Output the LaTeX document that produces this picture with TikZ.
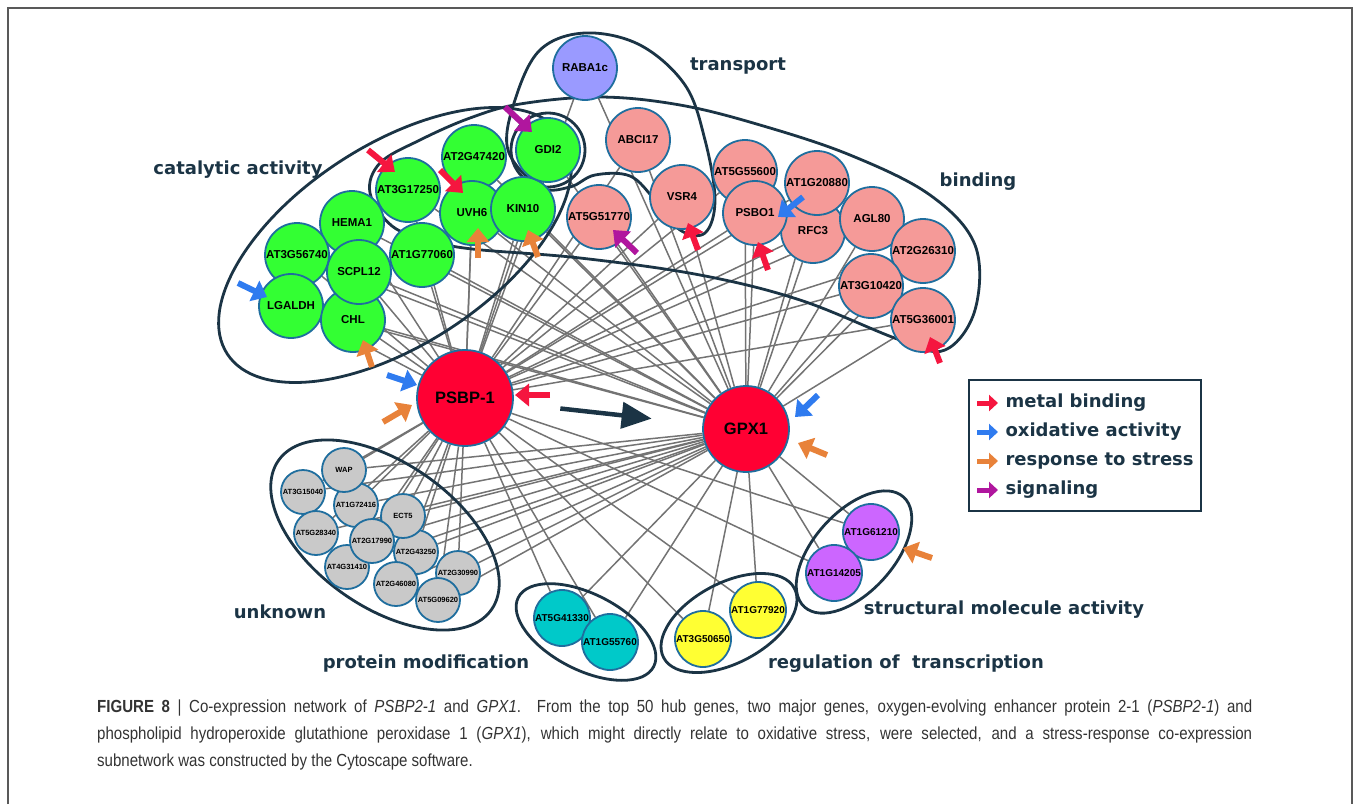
\documentclass[tikz,border=0pt]{standalone}
\usepackage{fontspec}
\setmainfont{Liberation Sans}
\newfontfamily\grpfont{DejaVu Sans}
\newfontfamily\capfont[FakeStretch=0.86]{Liberation Sans}
\usetikzlibrary{arrows.meta,calc,backgrounds}

\definecolor{navy}{HTML}{1B3445}
\definecolor{rim}{HTML}{1F6E9E}
\definecolor{catgreen}{HTML}{33FF33}
\definecolor{bindpink}{HTML}{F59A98}
\definecolor{lavender}{HTML}{9A9AFF}
\definecolor{unkgray}{HTML}{C9C9C9}
\definecolor{modcyan}{HTML}{00C9C9}
\definecolor{regyellow}{HTML}{FFFF33}
\definecolor{structpurple}{HTML}{CC66FF}
\definecolor{hubred}{HTML}{FF0033}
\definecolor{cuered}{HTML}{F5163F}
\definecolor{cueblue}{HTML}{2F7BEF}
\definecolor{cueorange}{HTML}{E8823A}
\definecolor{cuepurple}{HTML}{B0169E}
\definecolor{capgray}{HTML}{333333}

\tikzset{
  gene/.style={circle,draw=rim,line width=1.8pt,minimum size=64pt,inner sep=0pt,
    font=\fontsize{11.5}{11.5}\selectfont\bfseries},
  minigene/.style={gene,minimum size=44pt,font=\fontsize{7.5}{8}\selectfont\bfseries},
  midgene/.style={gene,minimum size=56pt,font=\fontsize{10}{10}\selectfont\bfseries},
  hub/.style={gene,fill=hubred,font=\fontsize{16.5}{17}\selectfont\bfseries},
  grp/.style={text=navy,font=\grpfont\bfseries\fontsize{18}{20}\selectfont},
  outline/.style={draw=navy,line width=2.8pt},
  edge/.style={draw=black!55,line width=1.5pt},
  cue/.style={line width=6pt,-{Triangle[length=14pt,width=22pt]}},
  keycue/.style={line width=5pt,-{Triangle[length=9pt,width=16pt]}},
  bigarrow/.style={draw=navy,line width=4.5pt,-{Triangle[length=30pt,width=26pt]}},
}
\newcommand{\cue}[4]{\draw[cue,#1] ($(#2)+(#3)$) -- ($(#2)+(#4)$);}

\begin{document}
\begin{tikzpicture}[x=1pt,y=-1pt]
\useasboundingbox (0,0) rectangle (1358,804);
\draw[black!65,line width=1.5pt] (8,804) -- (8,8) -- (1352,8) -- (1352,804);

% group outlines
\draw[outline,rotate around={33:(395,245)}] (395,245) ellipse [x radius=200,y radius=100];
\draw[outline] plot[smooth cycle,tension=0.6] coordinates {(370,193) (380,163) (420,140) (470,118)
  (520,104) (600,97) (680,105) (760,125) (850,155) (930,195) (975,245) (975,310) (945,350)
  (900,340) (800,300) (700,275) (580,258) (472,249) (428,240) (392,226)};
\draw[outline] plot[smooth cycle,tension=0.6] coordinates {(508,150) (515,100) (540,50) (585,33)
  (640,45) (685,85) (705,140) (715,200) (705,233) (680,230) (655,200) (630,176) (595,175)
  (570,187) (540,187)};
\draw[outline] (548,150) circle [radius=37pt];
\draw[outline,rotate around={-35:(385,535)}] (385,535) ellipse [x radius=130,y radius=72];
\draw[outline,rotate around={-27:(586,632)}] (586,632) ellipse [x radius=76,y radius=38];
\draw[outline,rotate around={28:(729,623)}] (729,623) ellipse [x radius=74,y radius=40];
\draw[outline,rotate around={48:(854,552)}] (854,552) ellipse [x radius=74,y radius=40];

% hubs
\node[hub,minimum size=96pt] (psbp) at (465,398) {PSBP-1};
\node[hub,minimum size=86pt] (gpx) at (746,429) {GPX1};

% catalytic activity
\node[gene,fill=catgreen] (at3g17250) at (408,190) {AT3G17250};
\node[gene,fill=catgreen] (at2g47420) at (474,157) {AT2G47420};
\node[gene,fill=catgreen] (uvh6) at (472,213) {UVH6};
\node[gene,fill=catgreen] (kin10) at (523,209) {KIN10};
\node[gene,fill=catgreen] (gdi2) at (548,150) {GDI2};
\node[gene,fill=catgreen] (hema1) at (352,223) {HEMA1};
\node[gene,fill=catgreen] (at3g56740) at (297,255) {AT3G56740};
\node[gene,fill=catgreen] (lgaldh) at (291,306) {LGALDH};
\node[gene,fill=catgreen] (chl) at (353,320) {CHL};
\node[gene,fill=catgreen] (scpl12) at (359,272) {SCPL12};
\node[gene,fill=catgreen] (at1g77060) at (422,255) {AT1G77060};

% transport and binding
\node[gene,fill=lavender] (raba1c) at (585,68) {RABA1c};
\node[gene,fill=bindpink] (abci17) at (638,140) {ABCI17};
\node[gene,fill=bindpink] (at5g51770) at (599,217) {AT5G51770};
\node[gene,fill=bindpink] (vsr4) at (682,197) {VSR4};
\node[gene,fill=bindpink] (at5g55600) at (745,172) {AT5G55600};
\node[gene,fill=bindpink] (rfc3) at (813,231) {RFC3};
\node[gene,fill=bindpink] (psbo1) at (755,213) {PSBO1};
\node[gene,fill=bindpink] (at1g20880) at (817,183) {AT1G20880};
\node[gene,fill=bindpink] (agl80) at (872,219) {AGL80};
\node[gene,fill=bindpink] (at2g26310) at (923,251) {AT2G26310};
\node[gene,fill=bindpink] (at3g10420) at (871,286) {AT3G10420};
\node[gene,fill=bindpink] (at5g36001) at (923,320) {AT5G36001};

% unknown
\node[minigene,fill=unkgray] (at1g72416) at (356,505) {AT1G72416};
\node[minigene,fill=unkgray] (wap) at (344,470) {WAP};
\node[minigene,fill=unkgray] (at3g15040) at (303,492) {AT3G15040};
\node[minigene,fill=unkgray] (at5g28340) at (316,533) {AT5G28340};
\node[minigene,fill=unkgray] (at4g31410) at (347,567) {AT4G31410};
\node[minigene,fill=unkgray] (at2g43250) at (416,552) {AT2G43250};
\node[minigene,fill=unkgray] (ect5) at (403,516) {ECT5};
\node[minigene,fill=unkgray] (at2g17990) at (372,541) {AT2G17990};
\node[minigene,fill=unkgray] (at2g46080) at (396,584) {AT2G46080};
\node[minigene,fill=unkgray] (at2g30990) at (458,573) {AT2G30990};
\node[minigene,fill=unkgray] (at5g09620) at (438,600) {AT5G09620};

% protein modification, regulation, structural
\node[midgene,fill=modcyan] (at5g41330) at (562,618) {AT5G41330};
\node[midgene,fill=modcyan] (at1g55760) at (610,642) {AT1G55760};
\node[midgene,fill=regyellow] (at3g50650) at (703,639) {AT3G50650};
\node[midgene,fill=regyellow] (at1g77920) at (758,610) {AT1G77920};
\node[midgene,fill=structpurple] (at1g61210) at (871,532) {AT1G61210};
\node[midgene,fill=structpurple] (at1g14205) at (834,573) {AT1G14205};

% co-expression edges
\begin{scope}[on background layer]
\foreach \g in {at3g17250,at2g47420,uvh6,kin10,gdi2,hema1,at3g56740,lgaldh,chl,scpl12,at1g77060,
  raba1c,abci17,at5g51770,vsr4,at5g55600,rfc3,psbo1,at1g20880,agl80,at2g26310,at3g10420,at5g36001,
  at1g72416,wap,at3g15040,at5g28340,at4g31410,at2g43250,ect5,at2g17990,at2g46080,at2g30990,at5g09620,
  at5g41330,at1g55760,at3g50650,at1g77920,at1g61210,at1g14205}
  {\draw[edge] (psbp) -- (\g); \draw[edge] (gpx) -- (\g);}
\end{scope}

\draw[bigarrow,shorten <=47pt,shorten >=51pt] (psbp) -- (gpx);

% annotation arrows
\cue{cuered}{at3g17250}{-40,-40}{-13,-18}
\cue{cuered}{uvh6}{-32,-43}{-9,-20}
\cue{cuepurple}{gdi2}{-43,-43}{-16,-18}
\cue{cueorange}{uvh6}{6,45}{6,15}
\cue{cueorange}{kin10}{15,48}{5,21}
\cue{cueblue}{lgaldh}{-53,-23}{-24,-9}
\cue{cueorange}{chl}{19,47}{10,20}
\cue{cueblue}{psbp}{-78,-23}{-48,-13}
\cue{cueorange}{psbp}{-82,24}{-53,7}
\cue{cuered}{psbp}{85,-3}{50,-3}
\cue{cueblue}{gpx}{72,-34}{49,-12}
\cue{cueorange}{gpx}{81,26}{52,14}
\cue{cuepurple}{at5g51770}{38,36}{14,13}
\cue{cuered}{vsr4}{16,53}{6,26}
\cue{cuered}{psbo1}{13,57}{3,29}
\cue{cueblue}{psbo1}{48,-16}{23,4}
\cue{cuered}{at5g36001}{17,43}{7,17}
\cue{cueorange}{at1g61210}{61,26}{32,16}

% group names
\node[grp] (catlabel) at (238,170) {catalytic activity};
\node[grp] (translabel) at (738,66) {transport};
\node[grp] (bindlabel) at (978,182) {binding};
\node[grp] (unklabel) at (280,612) {unknown};
\node[grp] (modlabel) at (426,664) {protein modification};
\node[grp] (reglabel) at (906,664) {regulation of\ \ transcription};
\node[grp] (structlabel) at (1004,610) {structural molecule activity};

% legend
\draw[navy,line width=2.5pt] (969,380) rectangle (1201,511);
\foreach \c/\t [count=\i] in {cuered/metal binding,cueblue/oxidative activity,
  cueorange/response to stress,cuepurple/signaling} {
  \coordinate (key\i) at (977,374+29*\i);
  \draw[keycue,\c] (key\i) -- ++(21,0);
  \node[grp,anchor=west] at ($(key\i)+(25,0)$) {\t};
}

% caption
\node[anchor=north west,inner sep=0pt,text width=1155pt,align=justify,text=capgray,
  font=\capfont\fontsize{17.5}{27}\selectfont] (caption) at (97,700)
  {{\bfseries FIGURE 8} | Co-expression network of \textit{PSBP2-1} and \textit{GPX1}. From the top 50 hub genes, two major genes, oxygen-evolving enhancer protein 2-1 (\textit{PSBP2-1}) and\linebreak
  phospholipid hydroperoxide glutathione peroxidase 1 (\textit{GPX1}), which might directly relate to oxidative stress, were selected, and a stress-response co-expression\linebreak
  subnetwork was constructed by the Cytoscape software.};
\end{tikzpicture}
\end{document}
